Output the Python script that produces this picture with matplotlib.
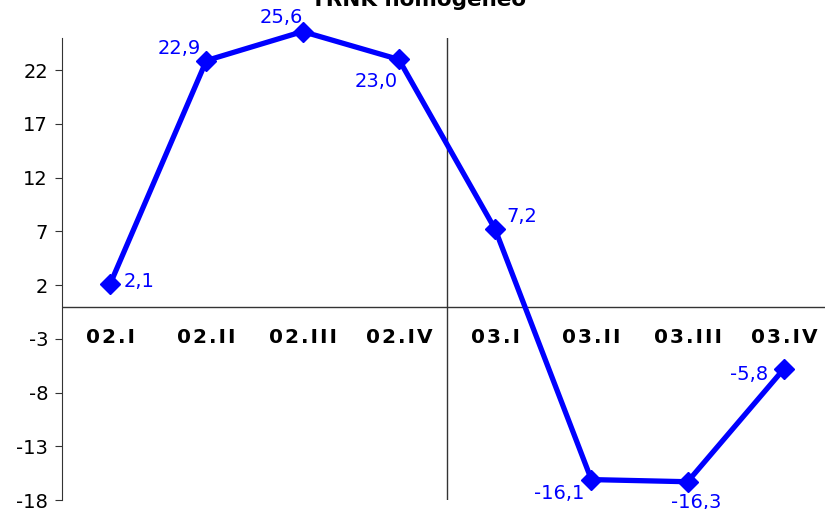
import matplotlib
matplotlib.use("Agg")
import matplotlib.pyplot as plt

plt.rcParams["axes.unicode_minus"] = False

quarters = ["02.I", "02.II", "02.III", "02.IV", "03.I", "03.II", "03.III", "03.IV"]
values = [2.1, 22.9, 25.6, 23.0, 7.2, -16.1, -16.3, -5.8]
labels = ["2,1", "22,9", "25,6", "23,0", "7,2", "-16,1", "-16,3", "-5,8"]
yticks = [22, 17, 12, 7, 2, -3, -8, -13, -18]

# label offsets in points (dx, dy) and alignment
offsets = [(10, 1.5, "left"), (-4, 9, "right"), (0, 10, "right"), (-1, -16, "right"),
           (8, 9.5, "left"), (-5, -10, "right"), (6.5, -15, "center"), (-11, -4, "right")]

fig = plt.figure(figsize=(8.25, 5.09), dpi=100)
W, H = 825, 509
ax = fig.add_axes([62 / W, 9 / H, 770 / W, 462 / H])

x = list(range(len(values)))
ax.plot(x, values, color="#0000ff", lw=3.8, marker="D", ms=10, clip_on=False, zorder=3)

for xi, v, lab, (dx, dy, ha) in zip(x, values, labels, offsets):
    ax.annotate(lab, (xi, v), xytext=(dx, dy), textcoords="offset points",
                ha=ha, va="center", color="#0000ff", fontsize=14, annotation_clip=False)

ax.set_xlim(-0.5, 7.5)
ax.set_ylim(-18, 25)
ax.axhline(0, color="#333333", lw=1)
ax.axvline(3.5, color="#333333", lw=1)

for xi, q in zip(x, quarters):
    spaced = "\u200a".join(q)
    ax.text(xi, -2.85, spaced, ha="center", va="center", fontsize=14.5, fontweight="bold")

ax.set_yticks(yticks)
ax.set_xticks([])
ax.tick_params(axis="y", labelsize=14, length=5, pad=5, direction="out", color="#333333")
for s in ["top", "right", "bottom"]:
    ax.spines[s].set_visible(False)
ax.spines["left"].set_color("#333333")

fig.text(419 / W, 1 - 6 / H, "TRNK homogéneo", ha="center", va="baseline",
         fontsize=15.5, fontweight="bold")

fig.savefig("out.png", dpi=100)
